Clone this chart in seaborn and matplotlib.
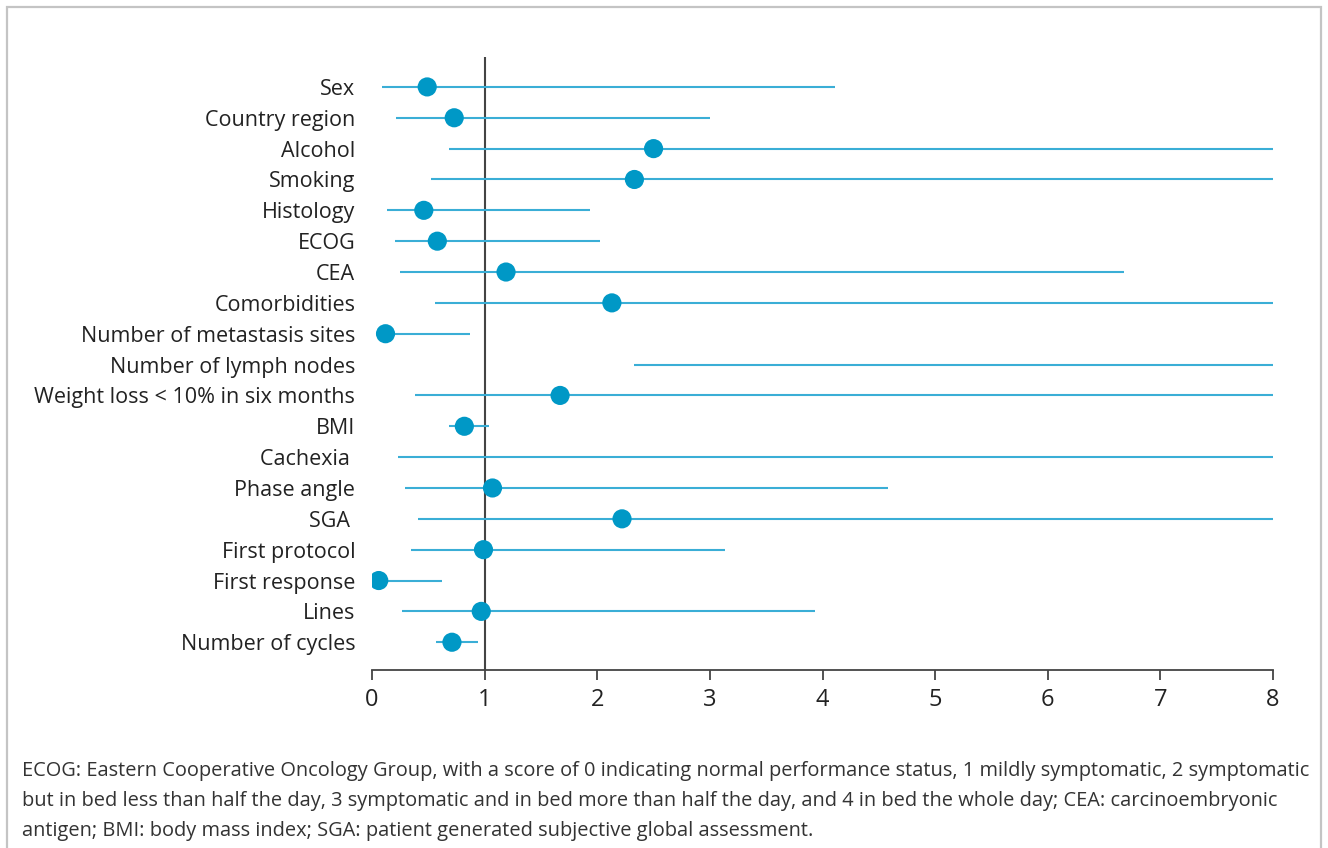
import numpy as np
import pandas as pd
import matplotlib
matplotlib.use("Agg")
import matplotlib.pyplot as plt
import seaborn as sns
from matplotlib.patches import Rectangle

# forest plot data (odds ratio + 95% CI)
variables = ["Sex", "Country region", "Alcohol", "Smoking", "Histology", "ECOG", "CEA",
             "Comorbidities", "Number of metastasis sites", "Number of lymph nodes",
             "Weight loss < 10% in six months", "BMI", "Cachexia ", "Phase angle", "SGA ",
             "First protocol", "First response", "Lines", "Number of cycles"]
estimate = [0.49, 0.73, 2.50, 2.33, 0.46, 0.58, 1.19, 2.13, 0.12, np.nan,
            1.67, 0.82, np.nan, 1.07, 2.22, 0.99, 0.06, 0.97, 0.71]
ci_low = [0.09, 0.21, 0.68, 0.52, 0.13, 0.20, 0.25, 0.56, 0.05, 2.33,
          0.38, 0.68, 0.23, 0.29, 0.41, 0.35, 0.02, 0.27, 0.57]
ci_high = [4.11, 3.00, 8.03, 8.03, 1.94, 2.02, 6.68, 8.03, 0.87, 8.03,
           8.03, 1.04, 8.03, 4.58, 8.03, 3.13, 0.62, 3.93, 0.94]
xticks = [0, 1, 2, 3, 4, 5, 6, 7, 8]

caption = ("ECOG: Eastern Cooperative Oncology Group, with a score of 0 indicating normal performance status, 1 mildly symptomatic, 2 symptomatic\n"
           "but in bed less than half the day, 3 symptomatic and in bed more than half the day, and 4 in bed the whole day; CEA: carcinoembryonic\n"
           "antigen; BMI: body mass index; SGA: patient generated subjective global assessment.")

df = pd.DataFrame({"var": variables, "est": estimate, "lo": ci_low, "hi": ci_high})
df["row"] = np.arange(len(df))

sns.set_theme(style="white")
plt.rcParams["font.family"] = ["Open Sans", "DejaVu Sans"]

fig = plt.figure(figsize=(13.28, 8.48), dpi=100)
ax = fig.add_axes([372 / 1328, 178 / 848, 901 / 1328, 613 / 848])

line_col = "#3aaed6"
dot_col = "#0098c6"

ax.hlines(df["row"], df["lo"], df["hi"], color=line_col, lw=1.5, zorder=2)
ax.axvline(1, color="#444444", lw=1.5, zorder=1)
sns.scatterplot(data=df.dropna(), x="est", y="row", ax=ax, color=dot_col, s=190,
                edgecolor="none", zorder=3, legend=False)

ax.set_xlim(0, 8)
ax.set_ylim(len(df) - 0.1, -0.97)
ax.set_xticks(xticks)
ax.set_xticklabels([str(t) for t in xticks])
ax.set_yticks(df["row"])
ax.set_yticklabels(df["var"])
ax.set_xlabel("")
ax.set_ylabel("")

for s in ["top", "right", "left"]:
    ax.spines[s].set_visible(False)
ax.spines["bottom"].set_color("#444444")
ax.spines["bottom"].set_linewidth(1.3)
ax.spines["bottom"].set_bounds(0, 8)
ax.tick_params(axis="x", direction="out", length=7, width=1.3, color="#444444",
               labelsize=17, labelcolor="#222222", pad=6, bottom=True)
ax.tick_params(axis="y", length=0, labelsize=15.5, labelcolor="#222222", pad=12)

fig.text(22 / 1328, 1 - 761 / 848, caption, fontsize=14.4, color="#333333",
         va="top", ha="left", linespacing=1.68)

fig.patches.append(Rectangle((7 / 1328, -0.05), 1314 / 1328, 1.05 - 7 / 848,
                             transform=fig.transFigure, fill=False,
                             edgecolor="#c4c4c4", lw=1.6))

fig.savefig("out.png", dpi=100)
